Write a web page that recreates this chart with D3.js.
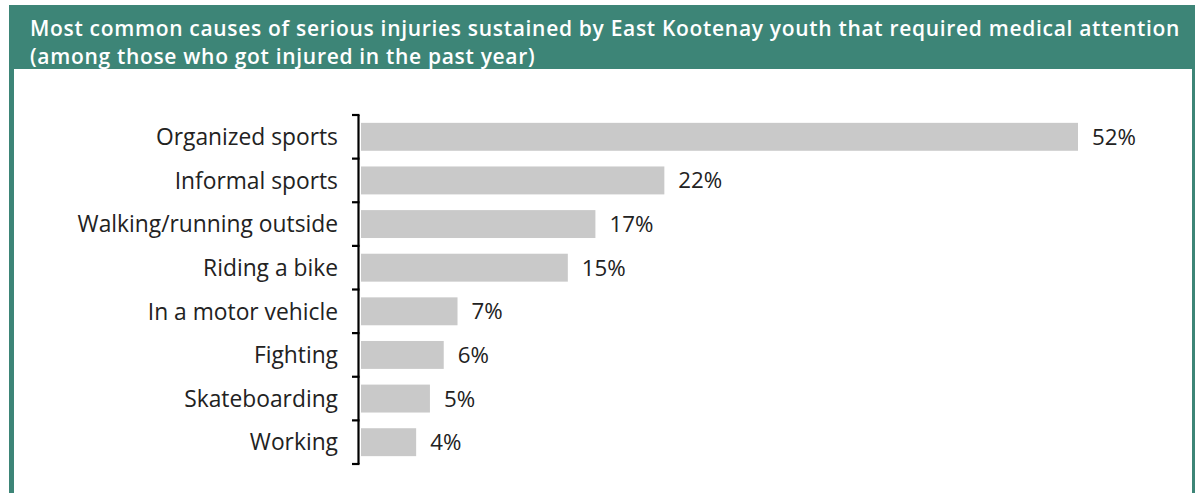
<!DOCTYPE html>
<html>
<head>
<meta charset="utf-8">
<script src="https://cdn.jsdelivr.net/npm/d3@7"></script>
<style>
  html, body { margin: 0; padding: 0; background: #fff; }
  svg { display: block; }
</style>
</head>
<body>
<svg id="chart" width="1195" height="493"></svg>
<script>
const titleLines = [
  "Most common causes of serious injuries sustained by East Kootenay youth that required medical attention",
  "(among those who got injured in the past year)"
];
const categories = [
  "Organized sports",
  "Informal sports",
  "Walking/running outside",
  "Riding a bike",
  "In a motor vehicle",
  "Fighting",
  "Skateboarding",
  "Working"
];
const values = [52, 22, 17, 15, 7, 6, 5, 4];

const teal = "#3d8577";
const svg = d3.select("#chart");
const font = "'Open Sans', 'Noto Sans', sans-serif";

// Frame
svg.append("rect").attr("x", 9).attr("y", 5).attr("width", 1186).attr("height", 500).attr("fill", teal);
svg.append("rect").attr("x", 14).attr("y", 69).attr("width", 1178).attr("height", 440).attr("fill", "#ffffff");

// Title
const tl = svg.append("g");
titleLines.forEach((t, i) => {
  tl.append("text")
    .attr("x", 30)
    .attr("y", 36 + i * 28)
    .attr("fill", "#ffffff")
    .attr("font-family", font)
    .attr("font-weight", 600)
    .attr("font-size", 21)
    .text(t);
});
// fit line 1 to the reference width via letter-spacing
const t0 = tl.select("text").node();
const w0 = t0.getComputedTextLength();
tl.selectAll("text").attr("letter-spacing", (1150 - w0) / titleLines[0].length);

// Scales
const x = d3.scaleLinear().domain([0, 52]).range([361, 1078]);
const y = d3.scaleBand().domain(categories).range([115, 464]).paddingInner(0.36).paddingOuter(0.18);

// Bars
svg.append("g").selectAll("rect")
  .data(values)
  .join("rect")
  .attr("x", x(0))
  .attr("y", (d, i) => y(categories[i]))
  .attr("width", d => x(d) - x(0))
  .attr("height", y.bandwidth())
  .attr("fill", "#c9c9c9");

// Value labels
svg.append("g").selectAll("text")
  .data(values)
  .join("text")
  .attr("x", d => x(d) + 14)
  .attr("y", (d, i) => y(categories[i]) + y.bandwidth() / 2)
  .attr("dy", "0.36em")
  .attr("font-family", font)
  .attr("font-size", 22.3)
  .attr("fill", "#222222")
  .text(d => d + "%");

// Axis with ticks at category boundaries
const axisG = svg.append("g");
const step = (464 - 115) / categories.length;
const bounds = d3.range(categories.length + 1).map(i => 115 + i * step);
axisG.append("line")
  .attr("x1", 358.5).attr("x2", 358.5)
  .attr("y1", 115).attr("y2", 464)
  .attr("stroke", "#000").attr("stroke-width", 2.2);
axisG.selectAll("line.tick")
  .data(bounds)
  .join("line")
  .attr("class", "tick")
  .attr("x1", 352).attr("x2", 359.5)
  .attr("y1", d => d).attr("y2", d => d)
  .attr("stroke", "#000").attr("stroke-width", 2.2);

// Category labels
svg.append("g").selectAll("text")
  .data(categories)
  .join("text")
  .attr("x", 338)
  .attr("y", d => y(d) + y.bandwidth() / 2)
  .attr("dy", "0.36em")
  .attr("text-anchor", "end")
  .attr("font-family", font)
  .attr("font-size", 22.8)
  .attr("fill", "#222222")
  .text(d => d);
</script>
</body>
</html>
